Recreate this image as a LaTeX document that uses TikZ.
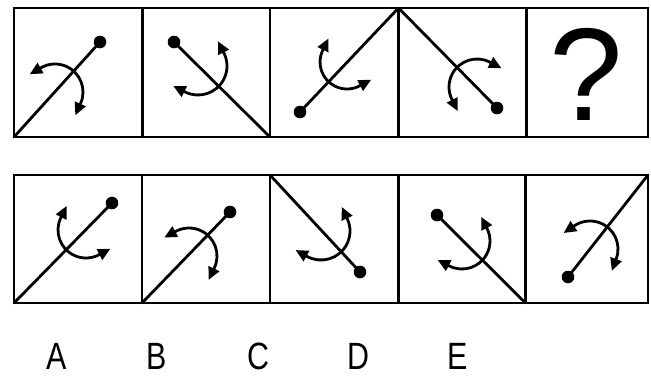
\documentclass[tikz,border=0pt]{standalone}
\usepackage{fontspec}
\setmainfont{Liberation Sans}
\usetikzlibrary{arrows.meta,calc}
\tikzset{
  frame/.style={line width=2.4pt,line join=miter},
  stem/.style={line width=2.8pt,line cap=round},
  bow/.style={line width=2.8pt,{Triangle[length=12.5pt,width=11.5pt]}-{Triangle[length=12.5pt,width=11.5pt]}},
  label/.style={font=\fontsize{38}{38}\selectfont,xscale=0.8,anchor=base,inner sep=0pt},
}
% #1 x, #2 y (downwards), #3 direction of bulge (deg), #4 radius
\newcommand{\bowarrow}[4]{%
  \draw[bow] ($(#1,-#2)+(#3-72:#4)+(#3-162:13)$) -- ($(#1,-#2)+(#3-72:#4)$)
    arc[start angle=#3-72, end angle=#3+72, radius=#4] -- ++(#3+162:13);
}
\newcommand{\stemdot}[4]{% corner x,y ; dot x,y
  \draw[stem] (#1,-#2) -- (#3,-#4);
  \fill (#3,-#4) circle (6.3);
}
\begin{document}
\begin{tikzpicture}[x=1pt,y=1pt]
\useasboundingbox (0,0) rectangle (651,-376);
% frames
\draw[frame] (14,-8) rectangle (648,-137);
\foreach \xx in {142.5,270,398.5,526.5} \draw[frame] (\xx,-8) -- (\xx,-137);
\draw[frame] (14,-175) rectangle (648,-303);
\foreach \xx in {142,270,398.5,525.5} \draw[frame] (\xx,-175) -- (\xx,-303);
% top row
\stemdot{14}{137}{100}{42}
\bowarrow{55}{92}{48}{28}
\stemdot{270}{137}{174}{42}
\bowarrow{198}{66}{-45}{29}
\stemdot{398.5}{8}{300}{112}
\bowarrow{347}{62}{226}{27}
\stemdot{398.5}{8}{497}{108}
\bowarrow{477}{87}{134.4}{28}
\node[font=\fontsize{132}{132}\selectfont,anchor=base,inner sep=0pt] (q) at (586,-120) {?};
% bottom row
\stemdot{14}{303}{112}{203}
\bowarrow{86}{230}{225.6}{28}
\stemdot{142}{303}{230}{212}
\bowarrow{189}{256}{46.3}{28}
\stemdot{270}{175}{360}{272}
\bowarrow{321}{231}{-47}{29}
\stemdot{525.5}{303}{437}{215}
\bowarrow{462}{241}{-45.3}{28}
\stemdot{648}{175}{568}{277}
\bowarrow{590}{249}{51.9}{28}
% labels
\node[label] (la) at (57,-369) {A};
\node[label] (lb) at (157,-369) {B};
\node[label] (lc) at (258,-369) {C};
\node[label] (ld) at (358,-369) {D};
\node[label] (le) at (458,-369) {E};
\end{tikzpicture}
\end{document}
